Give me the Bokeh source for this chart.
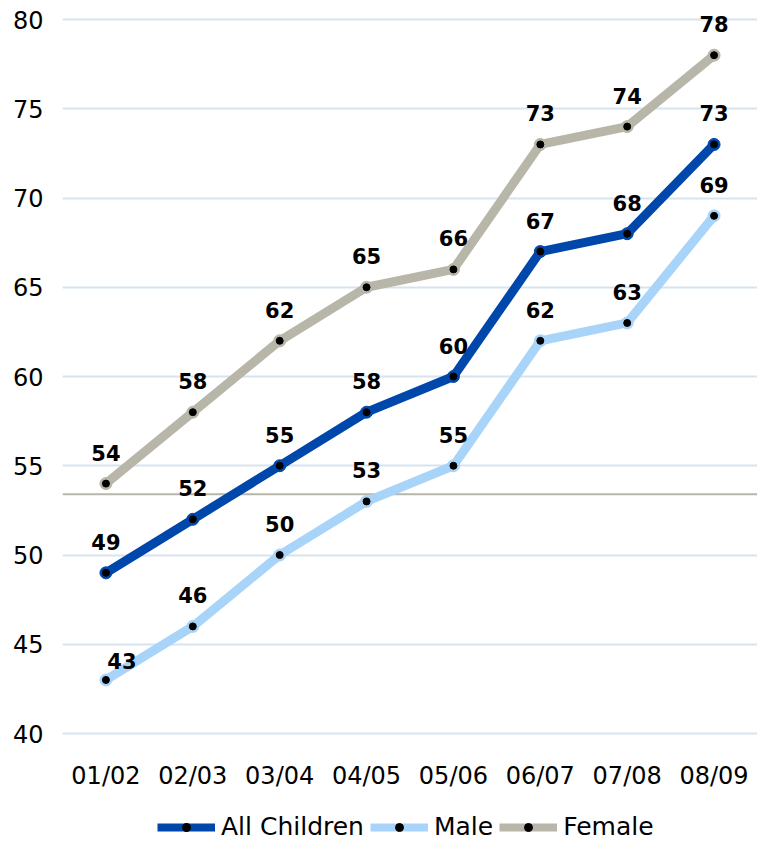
from bokeh.plotting import figure
from bokeh.layouts import column
from bokeh.models import (ColumnDataSource, Legend, LegendItem, LabelSet,
                          Span, FixedTicker)
from bokeh.core.properties import value
from bokeh.embed import file_html
from bokeh.resources import INLINE

years = ["01/02", "02/03", "03/04", "04/05", "05/06", "06/07", "07/08", "08/09"]
all_children = [49, 52, 55, 58, 60, 67, 68, 73]
male = [43, 46, 50, 53, 55, 62, 63, 69]
female = [54, 58, 62, 65, 66, 73, 74, 78]
y_ticks = [40, 45, 50, 55, 60, 65, 70, 75, 80]
ref_level = 53.4

GRAY = "#B8B6A8"
BLUE = "#0047AB"
LIGHT = "#A8D4FA"
series = [
    ("Female", female, GRAY),
    ("All Children", all_children, BLUE),
    ("Male", male, LIGHT),
]

# frame: 80 at y=19, 40 at y=733 -> 17.85 px per unit; extend both ends a
# little so the top label and the 40 gridline are not clipped
px_per_unit = (733 - 19) / 40.0
top_border = 4
bottom_pad = 3
y_end = 80 + (19 - top_border) / px_per_unit
y_start = 40 - bottom_pad / px_per_unit

p = figure(x_range=years, y_range=(y_start, y_end), width=757, height=800,
           output_backend="svg", toolbar_location=None,
           min_border_left=62, min_border_right=0, min_border_top=top_border,
           min_border_bottom=800 - 733 - bottom_pad)
p.outline_line_color = None
p.background_fill_color = "white"
p.x_range.range_padding = 0

p.xgrid.grid_line_color = None
p.ygrid.grid_line_color = "#D6E4F0"
p.ygrid.grid_line_width = 2
p.yaxis.ticker = FixedTicker(ticks=y_ticks)

for ax in (p.xaxis[0], p.yaxis[0]):
    ax.axis_line_color = None
    ax.major_tick_line_color = None
    ax.minor_tick_line_color = None
    ax.major_label_text_font = "DejaVu Sans"
    ax.major_label_text_font_size = "24px"
    ax.major_label_text_color = "#000000"
p.yaxis.major_label_standoff = 13
p.xaxis.major_label_standoff = 22 - bottom_pad

p.add_layout(Span(location=ref_level, dimension="width", line_color=GRAY,
                  line_width=2, level="underlay"))

for name, vals, col in series:
    src = ColumnDataSource(dict(x=years, y=vals))
    p.line("x", "y", source=src, line_color=col, line_width=9,
           line_join="round", line_cap="round")
    p.scatter("x", "y", source=src, size=12, fill_color=col, line_color=col)
    p.scatter("x", "y", source=src, size=7, fill_color="black",
              line_color="black")

# data labels
for name, vals, col in series:
    xo = [0] * len(vals)
    yo = [23] * len(vals)
    if name == "Male":
        xo[0] = 16
        yo[0] = 11
    src = ColumnDataSource(dict(x=years, y=vals, t=[str(v) for v in vals],
                                xo=xo, yo=yo))
    p.add_layout(LabelSet(x="x", y="y", text="t", source=src,
                          x_offset="xo", y_offset="yo",
                          text_align="center", text_baseline="alphabetic",
                          text_font=value("DejaVu Sans"), text_font_style="bold",
                          text_font_size="21px", text_color="black"))

# legend strip below the chart (its frame aligns with the chart frame)
lg = figure(width=757, height=41, x_range=(0, 1), y_range=(0, 1),
            output_backend="svg", toolbar_location=None,
            min_border_left=62, min_border_right=0, min_border_top=0,
            min_border_bottom=0)
lg.axis.visible = False
lg.grid.visible = False
lg.outline_line_color = None
off = ColumnDataSource(dict(x=[-5], y=[-5]))
leg_items = []
for name, col in [("All Children", BLUE), ("Male", LIGHT), ("Female", GRAY)]:
    ln = lg.line("x", "y", source=off, line_color=col, line_width=8)
    ring = lg.scatter("x", "y", source=off, size=11, fill_color=col,
                      line_color=col)
    dot = lg.scatter("x", "y", source=off, size=7, fill_color="black",
                     line_color="black")
    leg_items.append(LegendItem(label=name, renderers=[ln, ring, dot]))

legend = Legend(items=leg_items, orientation="horizontal", location=(95, 0),
                label_text_font="DejaVu Sans", label_text_font_size="25px",
                label_text_color="black",
                glyph_width=58, glyph_height=20, label_standoff=6,
                spacing=6, padding=0, margin=0, border_line_color=None,
                background_fill_alpha=0)
lg.add_layout(legend, "center")

layout = column(p, lg, spacing=0)
open("out.html", "w").write(file_html(layout, INLINE))
